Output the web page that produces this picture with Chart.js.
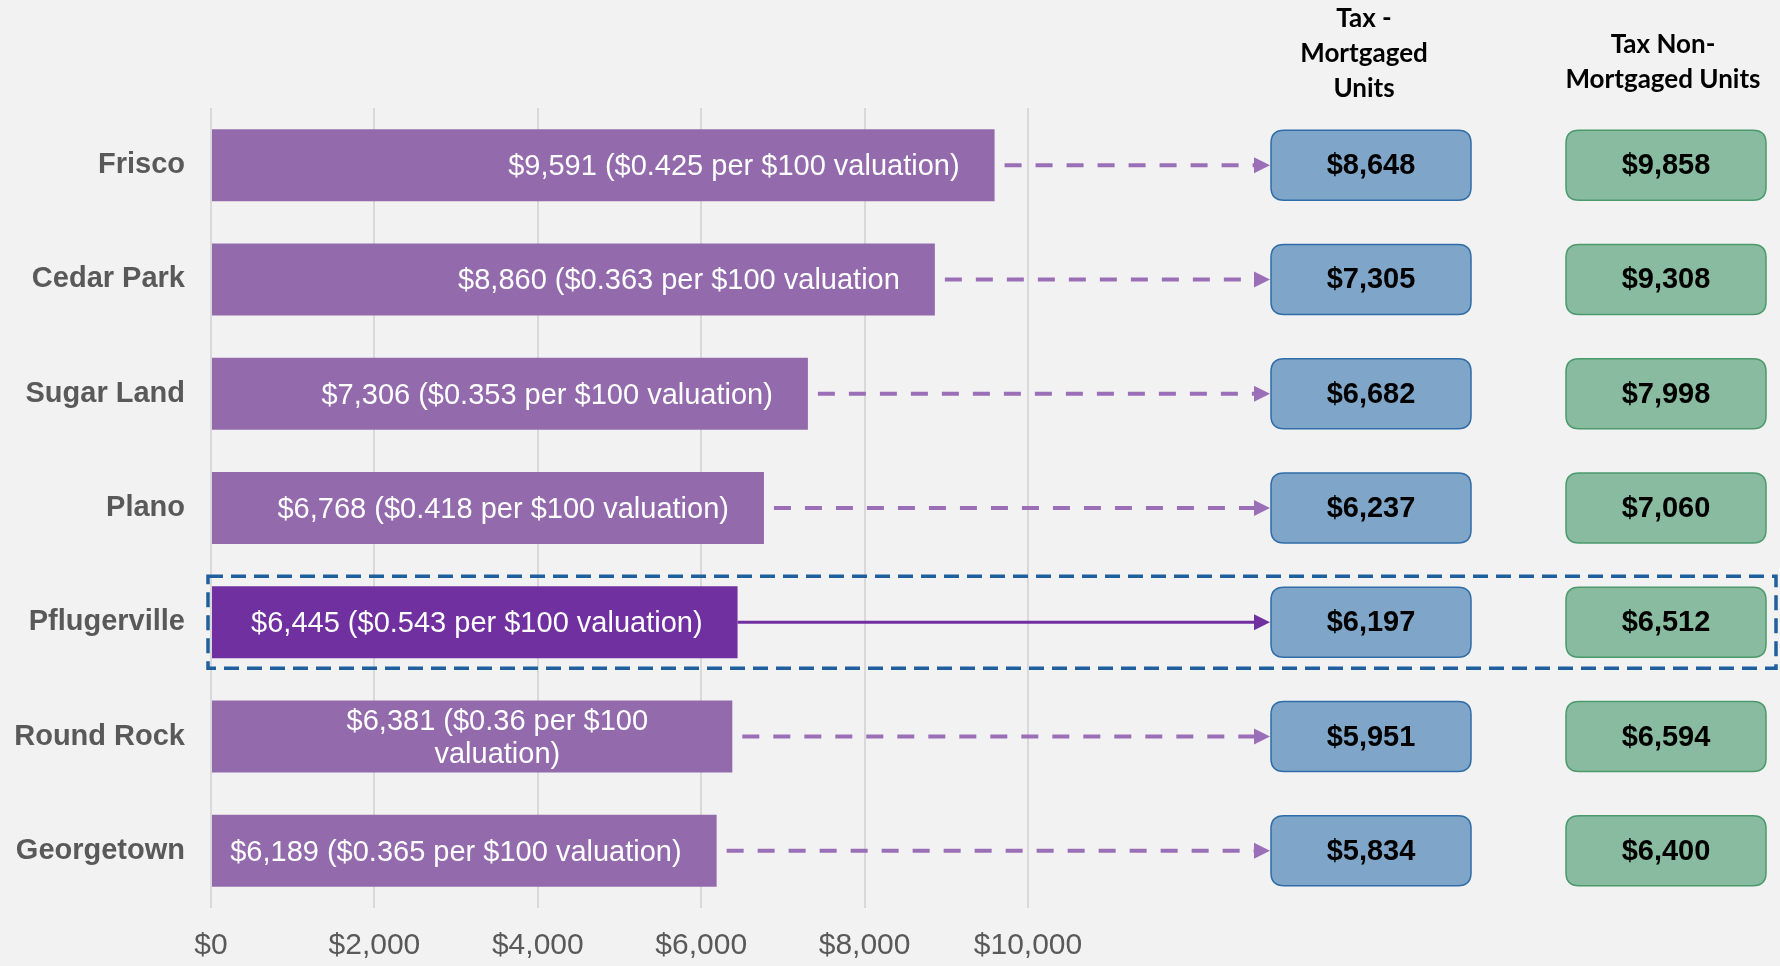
<!DOCTYPE html>
<html>
<head>
<meta charset="utf-8">
<script src="https://cdn.jsdelivr.net/npm/chart.js@4.4.0/dist/chart.umd.min.js"></script>
<style>
  html, body { margin: 0; padding: 0; background: #f2f2f2; }
  #wrap { width: 1780px; height: 966px; position: relative; }
</style>
</head>
<body>
<div id="wrap"><canvas id="taxChart"></canvas></div>
<script>
// Data
const cities = ['Frisco', 'Cedar Park', 'Sugar Land', 'Plano', 'Pflugerville', 'Round Rock', 'Georgetown'];
const medianTax = [9591, 8860, 7306, 6768, 6445, 6381, 6189];
const barLabels = [
  '$9,591 ($0.425 per $100 valuation)',
  '$8,860 ($0.363 per $100 valuation',
  '$7,306 ($0.353 per $100 valuation)',
  '$6,768 ($0.418 per $100 valuation)',
  '$6,445 ($0.543 per $100 valuation)',
  ['$6,381 ($0.36 per $100', 'valuation)'],
  '$6,189 ($0.365 per $100 valuation)'
];
const mortgagedTax = [8648, 7305, 6682, 6237, 6197, 5951, 5834];
const nonMortgagedTax = [9858, 9308, 7998, 7060, 6512, 6594, 6400];
const mortgagedHeader = ['Tax -', 'Mortgaged', 'Units'];
const nonMortgagedHeader = ['Tax Non-', 'Mortgaged Units'];
const highlightCity = 'Pflugerville';
const xMax = 10000;
const xStep = 2000;

const hi = cities.indexOf(highlightCity);
const barColors = cities.map((c, i) => i === hi ? '#7030a0' : '#936bad');

function money(v) {
  return '$' + v.toLocaleString('en-US');
}

function roundRect(ctx, x, y, w, h, r) {
  ctx.beginPath();
  ctx.moveTo(x + r, y);
  ctx.lineTo(x + w - r, y);
  ctx.quadraticCurveTo(x + w, y, x + w, y + r);
  ctx.lineTo(x + w, y + h - r);
  ctx.quadraticCurveTo(x + w, y + h, x + w - r, y + h);
  ctx.lineTo(x + r, y + h);
  ctx.quadraticCurveTo(x, y + h, x, y + h - r);
  ctx.lineTo(x, y + r);
  ctx.quadraticCurveTo(x, y, x + r, y);
  ctx.closePath();
}

// labels, arrows, side boxes
const overlay = {
  id: 'overlay',
  afterDatasetsDraw(chart) {
    const ctx = chart.ctx;
    const meta = chart.getDatasetMeta(0);
    const boxW = 200, boxH = 70;
    const col1 = 1271, col2 = 1566;

    ctx.save();
    meta.data.forEach((bar, i) => {
      // value label inside bar
      ctx.fillStyle = '#ffffff';
      ctx.font = '29px "Liberation Sans", Arial, sans-serif';
      ctx.textBaseline = 'middle';
      const lines = [].concat(barLabels[i]);
      if (lines.length === 1) {
        ctx.textAlign = 'right';
        ctx.fillText(lines[0], bar.x - 35, bar.y + 2);
      } else {
        ctx.textAlign = 'center';
        ctx.fillText(lines[0], bar.x - 235, bar.y - 15);
        ctx.fillText(lines[1], bar.x - 235, bar.y + 18);
      }

      // arrow to mortgaged box
      const isHi = i === hi;
      const sx = isHi ? bar.x : bar.x + 10;
      const ex = col1 - 1;
      ctx.strokeStyle = isHi ? '#7030a0' : '#9a6fb8';
      ctx.fillStyle = ctx.strokeStyle;
      ctx.lineWidth = isHi ? 3 : 4;
      ctx.setLineDash(isHi ? [] : [17, 14]);
      ctx.beginPath();
      ctx.moveTo(sx, bar.y);
      ctx.lineTo(ex - 14, bar.y);
      ctx.stroke();
      ctx.setLineDash([]);
      ctx.beginPath();
      ctx.moveTo(ex, bar.y);
      ctx.lineTo(ex - 16, bar.y - 8);
      ctx.lineTo(ex - 16, bar.y + 8);
      ctx.closePath();
      ctx.fill();

      // boxes
      const by = bar.y - boxH / 2;
      roundRect(ctx, col1, by, boxW, boxH, 13);
      ctx.fillStyle = '#7fa6c9';
      ctx.fill();
      ctx.lineWidth = 1.5;
      ctx.strokeStyle = '#2f6ca8';
      ctx.stroke();
      roundRect(ctx, col2, by, boxW, boxH, 13);
      ctx.fillStyle = '#88bba0';
      ctx.fill();
      ctx.strokeStyle = '#4b9a6c';
      ctx.stroke();

      ctx.fillStyle = '#000000';
      ctx.font = 'bold 29px "Liberation Sans", Arial, sans-serif';
      ctx.textAlign = 'center';
      ctx.fillText(money(mortgagedTax[i]), col1 + boxW / 2, bar.y + 1);
      ctx.fillText(money(nonMortgagedTax[i]), col2 + boxW / 2, bar.y + 1);
    });

    // headers
    ctx.fillStyle = '#000000';
    ctx.font = 'bold 26px Lato, "Open Sans", sans-serif';
    ctx.textAlign = 'center';
    ctx.textBaseline = 'middle';
    mortgagedHeader.forEach((t, k) => ctx.fillText(t, 1364, 19 + k * 35));
    nonMortgagedHeader.forEach((t, k) => ctx.fillText(t, 1663, 45 + k * 35));

    // highlight frame around one row
    const hb = meta.data[hi];
    ctx.strokeStyle = '#1f5f9e';
    ctx.lineWidth = 3.5;
    ctx.setLineDash([15, 8]);
    ctx.strokeRect(208, hb.y - 46, 1776 - 208, 92);
    ctx.restore();
  }
};

new Chart(document.getElementById('taxChart'), {
  type: 'bar',
  data: {
    labels: cities,
    datasets: [{
      data: medianTax,
      backgroundColor: barColors,
      barPercentage: 0.63,
      categoryPercentage: 1
    }]
  },
  options: {
    indexAxis: 'y',
    responsive: true,
    maintainAspectRatio: false,
    animation: false,
    layout: { padding: { top: 108, right: 752, left: 0, bottom: 0 } },
    plugins: {
      legend: { display: false },
      tooltip: { enabled: false }
    },
    scales: {
      x: {
        min: 0,
        max: xMax,
        afterFit: s => { s.height = 58; },
        border: { display: false },
        grid: { color: '#d9d9d9', lineWidth: 2, drawTicks: false },
        ticks: {
          stepSize: xStep,
          padding: 20,
          color: '#595959',
          font: { family: '"Liberation Sans", Arial', size: 30 },
          callback: v => money(v)
        }
      },
      y: {
        afterFit: s => { s.width = 211; },
        border: { display: false },
        grid: { display: false, drawTicks: false },
        ticks: {
          padding: 26,
          color: '#595959',
          font: { family: '"Liberation Sans", Arial', size: 29, weight: 'bold' }
        }
      }
    }
  },
  plugins: [overlay]
});
</script>
</body>
</html>
